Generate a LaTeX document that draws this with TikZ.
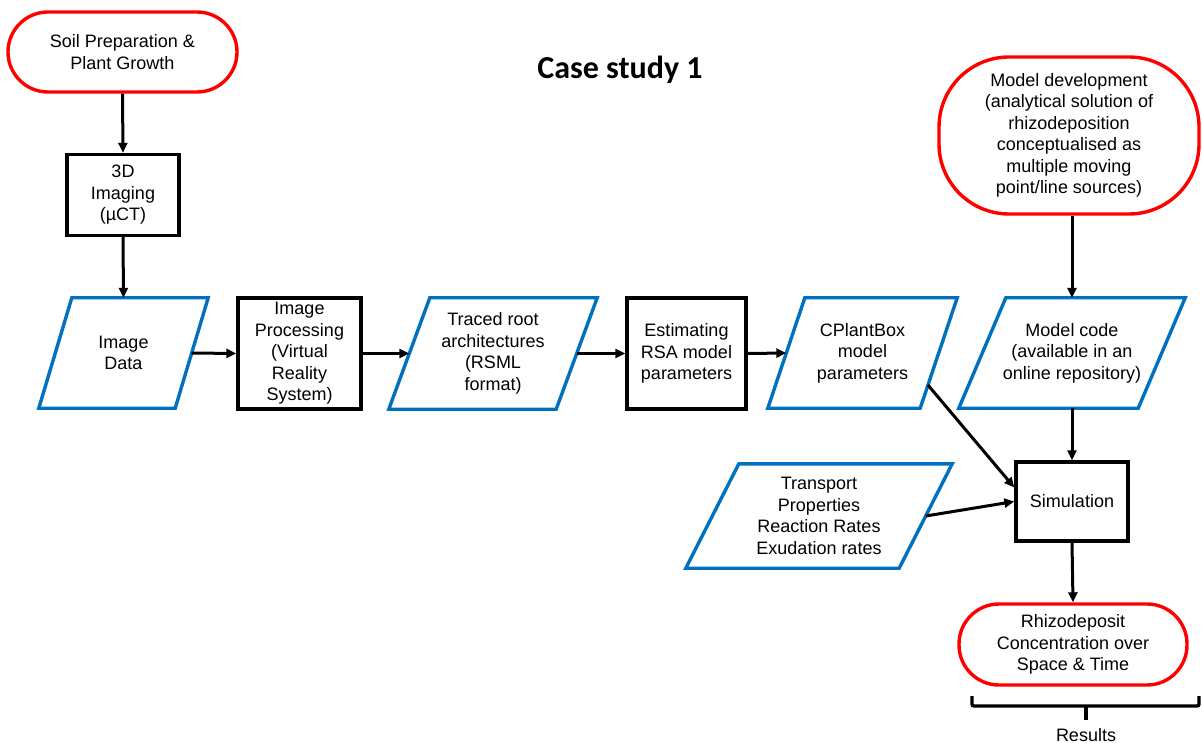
\documentclass[tikz,border=0pt]{standalone}
\usepackage{fontspec}
\setmainfont{Liberation Sans}
\newfontfamily\titlefont{Carlito}
\usetikzlibrary{shapes.geometric, arrows.meta, positioning}
\definecolor{termred}{RGB}{255, 0, 0}
\definecolor{datablue}{RGB}{0, 112, 192}

\begin{document}
\begin{tikzpicture}[x=1pt, y=-1pt,
  font=\fontsize{18}{21.5}\selectfont,
  term/.style={draw=termred, line width=3.4pt, rectangle, align=center, inner sep=0pt},
  procbox/.style={draw=black, line width=3.4pt, rectangle, align=center, inner sep=0pt},
  iobox/.style={rectangle, align=center, inner sep=0pt},
  ioline/.style={draw=datablue, line width=3.4pt, line join=miter},
  arr/.style={-{Triangle[length=10pt, width=9pt]}, line width=3pt}]
  \useasboundingbox (0,0) rectangle (1202,743);

  % Title
  \node[font=\titlefont\bfseries\fontsize{32}{36}\selectfont] (title) at (620,70) {Case study 1};

  % Imaging chain
  \node[term, minimum width=229pt, minimum height=80pt, rounded corners=40pt] (soil) at (122.5,52) {Soil Preparation \&\\Plant Growth};
  \node[procbox, minimum width=112pt, minimum height=81pt] (imaging) at (123,195) {3D\\Imaging\\(µCT)};

  % Main row (width = side length of the parallelogram)
  \node[iobox, minimum width=136pt, minimum height=110pt] (imgdata) at (123.5,353) {Image\\Data};
  \node[procbox, minimum width=123pt, minimum height=111pt] (proc) at (299.5,353.5) {Image\\Processing\\(Virtual\\Reality\\System)};
  \node[iobox, minimum width=167pt, minimum height=111pt] (traced) at (493,353.5) {Traced root\\architectures\\(RSML\\format)};
  \node[procbox, minimum width=119pt, minimum height=111pt] (estim) at (686.5,353.5) {Estimating\\RSA model\\parameters};
  \node[iobox, minimum width=152pt, minimum height=110pt] (cpb) at (862.5,353) {CPlantBox\\model\\parameters};
  \node[iobox, minimum width=179pt, minimum height=110pt] (code) at (1072,353) {Model code\\(available in an\\online repository)};

  % Model side
  \node[term, minimum width=260pt, minimum height=157pt, rounded corners=70pt] (dev) at (1069,135.5) {Model development\\(analytical solution of\\rhizodeposition\\conceptualised as\\multiple moving\\point/line sources)};
  \node[iobox, minimum width=213pt, minimum height=104pt] (transp) at (819,516) {Transport\\Properties\\Reaction Rates\\Exudation rates};
  \node[procbox, minimum width=112pt, minimum height=79pt] (sim) at (1072,501.5) {Simulation};
  \node[term, minimum width=228pt, minimum height=81pt, rounded corners=40pt] (conc) at (1073,644.5) {Rhizodeposit\\Concentration over\\Space \& Time};

  % Data parallelograms
  \foreach \n/\s in {imgdata/33, traced/41, cpb/37, code/47, transp/53}
    \draw[ioline] ([xshift=\s/2]\n.north west) -- ([xshift=\s/2]\n.north east)
      -- ([xshift=-\s/2]\n.south east) -- ([xshift=-\s/2]\n.south west) -- cycle;

  % Results brace
  \draw[line width=3.4pt, rounded corners=2pt] (972,696) -- (972,706) -- (1199,706) -- (1199,696);
  \draw[line width=3.4pt] (1086,706) -- (1086,720);
  \node (res) at (1086,735) {Results};

  % Connectors
  \draw[arr] (soil.south) -- (imaging.north);
  \draw[arr] (imaging.south) -- (imgdata.north);
  \draw[arr] (imgdata.east) -- (proc.west);
  \draw[arr] (proc.east) -- (traced.west);
  \draw[arr] (traced.east) -- (estim.west);
  \draw[arr] (estim.east) -- (cpb.west);
  \draw[arr] (code.north |- dev.south) -- (code.north);
  \draw[arr] (code.south) -- (sim.north);
  \draw[arr] ([shift={(-10.8,32)}]cpb.east) -- ([yshift=14pt]sim.west);
  \draw[arr] (transp.east) -- (sim.west);
  \draw[arr] (sim.south) -- (conc.north);
\end{tikzpicture}
\end{document}
